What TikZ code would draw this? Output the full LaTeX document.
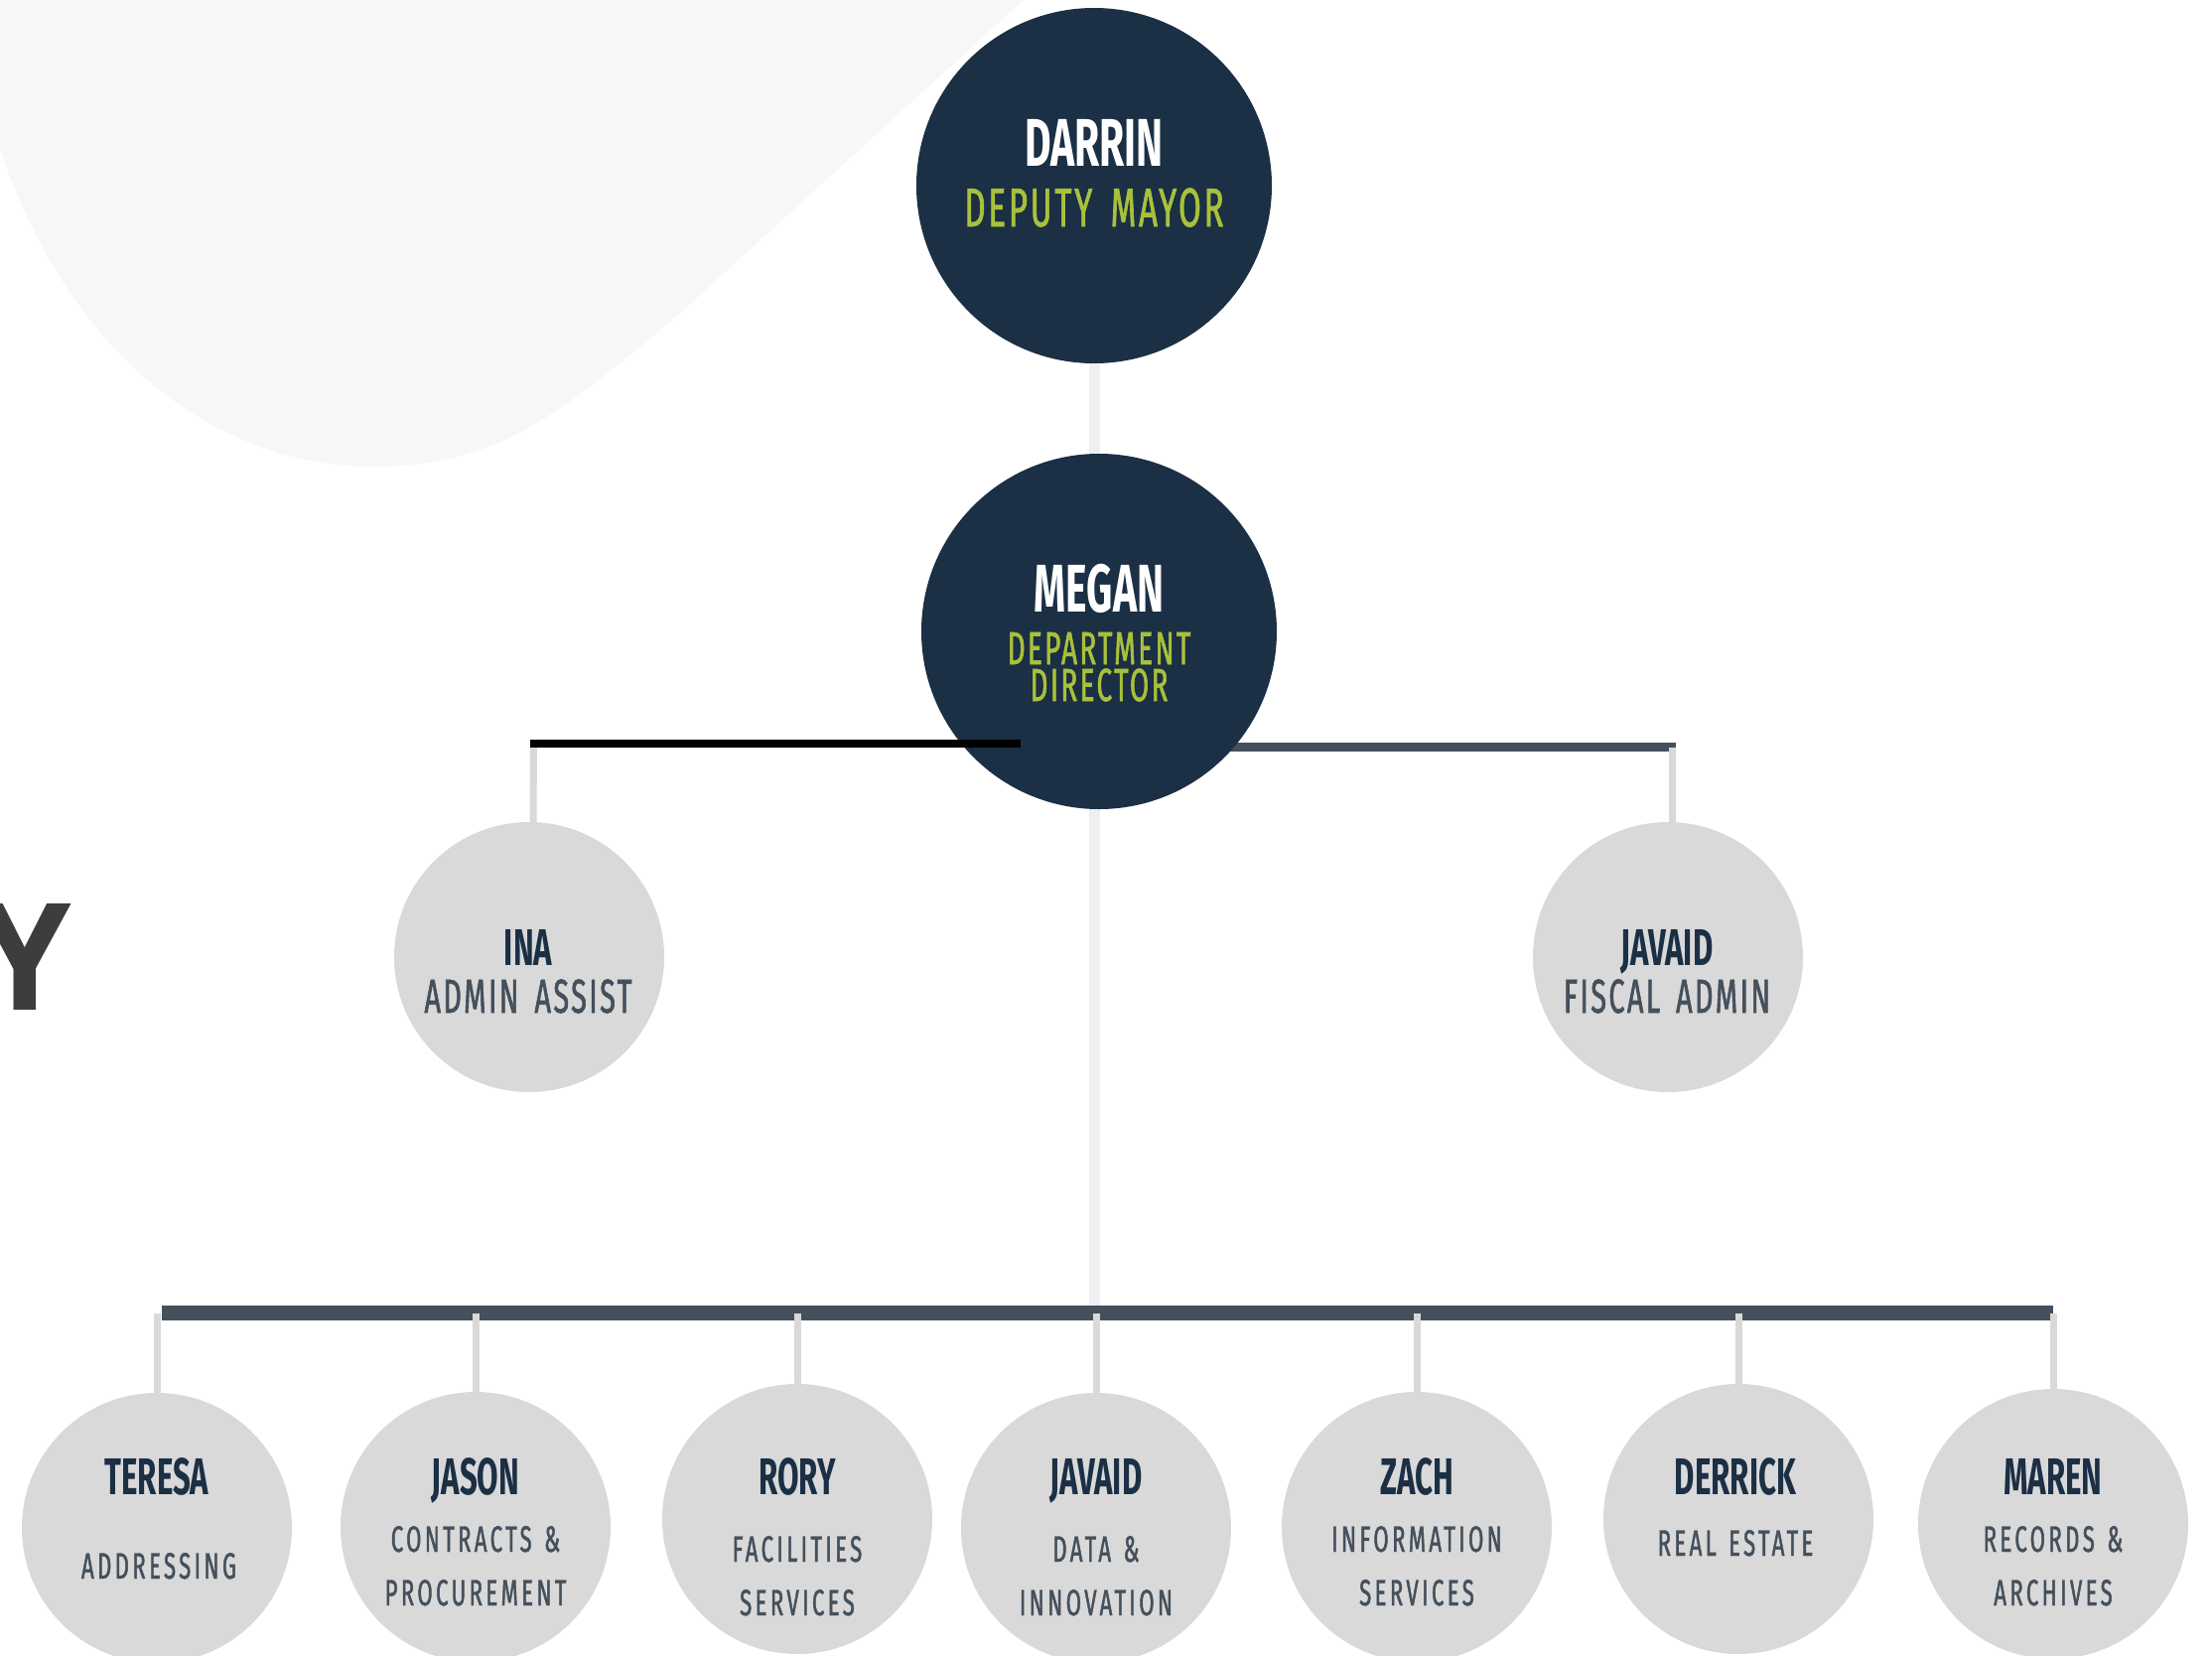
\documentclass[tikz,border=0pt]{standalone}
\usepackage{fontspec}
\setmainfont{Fira Sans}
\newfontfamily\condfont[FakeStretch=0.6]{Fira Sans}
\newfontfamily\rolefont[FakeStretch=0.6, FakeBold=1.2]{Fira Sans}
\newfontfamily\titlefont{Open Sans}
\usepackage{tikz}
\usetikzlibrary{shapes,calc}
\usetikzlibrary{positioning}
\definecolor{clrNavy}{HTML}{1B2F45}
\definecolor{clrGreen}{HTML}{A9C13A}
\definecolor{clrCircle}{HTML}{D9D9D9}
\definecolor{clrSlate}{HTML}{44505C}
\definecolor{clrTrunk}{HTML}{EEEFF1}
\definecolor{clrBlob}{HTML}{F6F8F7}
\definecolor{clrTitle}{HTML}{3D3D3D}
\tikzstyle{boss}=[circle, fill=clrNavy, minimum size=358pt, inner sep=0pt]
\tikzstyle{staff}=[circle, fill=clrCircle, minimum size=272pt, inner sep=0pt]
\tikzstyle{txt0}=[anchor=base, inner sep=0pt, text width=340pt, align=center]
\tikzstyle{bossname}=[txt0, text=white, font=\condfont\bfseries\fontsize{68}{68}\selectfont]
\tikzstyle{bossrole}=[txt0, text=clrGreen, font=\rolefont\fontsize{55}{38}\selectfont\addfontfeature{LetterSpace=5}]
\tikzstyle{staffname}=[txt0, text=clrNavy, font=\condfont\bfseries\fontsize{52}{52}\selectfont]
\tikzstyle{midrole}=[txt0, text=clrSlate, font=\rolefont\fontsize{48}{48}\selectfont\addfontfeature{LetterSpace=5}]
\tikzstyle{staffrole}=[txt0, text=clrSlate, font=\rolefont\fontsize{37}{54}\selectfont\addfontfeature{LetterSpace=9}]
\tikzstyle{trunk}=[draw=clrTrunk, line width=11pt]
\tikzstyle{bar}=[draw=clrSlate, line width=9pt]
\tikzstyle{drop}=[draw=clrCircle, line width=7pt]

\begin{document}
\begin{tikzpicture}[x=1pt, y=-1pt]
		\clip (0,0) rectangle (2228,1668);

		% background
		\fill[clrBlob] (0,0) -- (0,150) .. controls (70,360) and (220,470) .. (375,470)
			.. controls (500,470) and (560,420) .. (680,320) -- (1031,0) -- cycle;
		\node[text=clrTitle, font=\titlefont\bfseries\fontsize{150}{150}\selectfont, anchor=base, inner sep=0pt] (ytitle) at (25,1017) {Y};

		% lines behind the circles
		\coordinate (trunkTop) at (1102,187);
		\coordinate (trunkEnd) at (1102,1315);
		\draw[trunk] (trunkTop) -- (trunkEnd);

		\coordinate (rightA) at (1107,752.5);
		\coordinate (rightB) at (1687.5,752.5);
		\draw[bar] (rightA) -- (rightB);

		\coordinate (barL) at (163,1322.5);
		\coordinate (barR) at (2068,1322.5);
		\draw[bar, line width=15pt] (barL) -- (barR);

		% circles
		\node[boss] (darrin) at (1102,187) {};
		\node[boss] (megan) at (1107,636) {};

		\node[staff] (ina) at (533,964) {};
		\node[staff] (javaidf) at (1680,964) {};

		\node[staff] (teresa) at (158,1539) {};
		\node[staff] (jason) at (479,1538) {};
		\node[staff] (rory) at (803,1530) {};
		\node[staff] (javaidd) at (1104,1539) {};
		\node[staff] (zach) at (1427,1538) {};
		\node[staff] (derrick) at (1751,1530) {};
		\node[staff] (maren) at (2068,1535) {};

		% drops
		\coordinate (leftA) at (534,749);
		\coordinate (leftB) at (1028,749);
		\draw[drop] ([xshift=3.5pt]leftA) -- ([xshift=4pt]ina.north);
		\draw[drop] ([xshift=-3.5pt]rightB) -- ([xshift=4pt]javaidf.north);
		\foreach \n in {teresa,jason,rory,javaidd,zach,derrick,maren}
			\draw[drop] (\n.north |- barL) -- (\n.north);
		\draw[black!25, line width=8.5pt, yshift=-3pt] (leftA) -- (leftB);
		\draw[black, line width=8.5pt] (leftA) -- (leftB);

		% texts
		\node[bossname] (darrin-n) at (1102,167) {DARRIN};
		\node[bossrole] (darrin-r) at (1102,228) {DEPUTY MAYOR};
		\node[bossname] (megan-n) at (1107,616) {MEGAN};
		\node[bossrole, font=\rolefont\fontsize{46.5}{37}\selectfont\addfontfeature{LetterSpace=5}] (megan-r) at (1107,669) {DEPARTMENT\\DIRECTOR};

		\node[staffname] (ina-n) at (532,972) {INA};
		\node[midrole] (ina-r) at (532,1020) {ADMIN ASSIST};
		\node[staffname] (javaidf-n) at (1679,972) {JAVAID};
		\node[midrole] (javaidf-r) at (1679,1020) {FISCAL ADMIN};

		\node[staffname] (teresa-n) at (158,1505) {TERESA};
		\node[staffrole] (teresa-r) at (160,1590) {ADDRESSING};
		\node[staffname] (jason-n) at (479,1505) {JASON};
		\node[staffrole] (jason-r) at (479,1563) {CONTRACTS \&\\PROCUREMENT};
		\node[staffname] (rory-n) at (803,1505) {RORY};
		\node[staffrole] (rory-r) at (803,1573) {FACILITIES\\SERVICES};
		\node[staffname] (javaidd-n) at (1104,1505) {JAVAID};
		\node[staffrole] (javaidd-r) at (1104,1573) {DATA \&\\INNOVATION};
		\node[staffname] (zach-n) at (1427,1505) {ZACH};
		\node[staffrole] (zach-r) at (1427,1563) {INFORMATION\\SERVICES};
		\node[staffname] (derrick-n) at (1748,1505) {DERRICK};
		\node[staffrole] (derrick-r) at (1748,1567) {REAL ESTATE};
		\node[staffname] (maren-n) at (2068,1505) {MAREN};
		\node[staffrole] (maren-r) at (2068,1563) {RECORDS \&\\ARCHIVES};
\end{tikzpicture}
\end{document}
